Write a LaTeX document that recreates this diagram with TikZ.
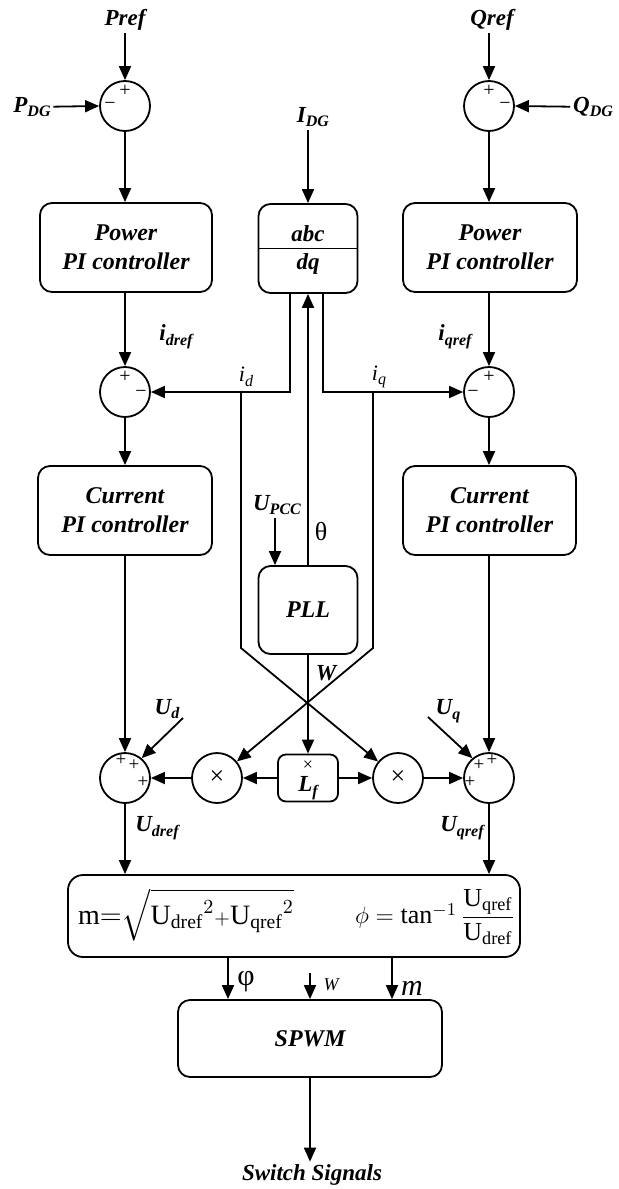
\documentclass[tikz,border=0pt]{standalone}
\usepackage{fontspec}
\usepackage{amsmath}
\setmainfont{Liberation Serif}
\usetikzlibrary{arrows.meta}
\newcommand\subsc[1]{\raisebox{-0.45ex}{\fontsize{8}{9}\selectfont #1}}
\begin{document}
\begin{tikzpicture}[x=0.5pt,y=-0.5pt,
 line width=0.9pt,
 arr/.style={-{Triangle[length=7pt,width=6pt]}},
 blk/.style={draw, rounded corners=6pt, align=center, inner sep=0pt, font=\fontsize{12}{14.5}\selectfont\bfseries\itshape},
 sumc/.style={draw, circle, minimum size=25pt, inner sep=0pt},
 lab/.style={inner sep=1pt, font=\fontsize{11.5}{13}\selectfont\bfseries\itshape},
 ilab/.style={inner sep=1pt, font=\fontsize{11}{13}\selectfont\itshape},
 sgn/.style={inner sep=0pt, font=\fontsize{10}{10}\selectfont},
 psgn/.style={inner sep=0pt, font=\fontsize{9.5}{9.5}\selectfont},
 mul/.style={inner sep=0pt, font=\fontsize{13}{13}\selectfont}
]
\useasboundingbox (0,0) rectangle (619,1189);

% ---- top row ----
\node[lab] (pref) at (125,20) {Pref};
\node[sumc] (s1) at (125,106) {};
\node[sgn] (s1p) at (125,91) {+};
\node[sgn] (s1m) at (110,106) {−};
\node[lab] (pdg) at (32,107) {P\subsc{DG}};
\node[blk, minimum width=86pt, minimum height=44.5pt] (box1) at (126,247.5) {Power\\PI controller};

\node[lab] (qref) at (492,20) {Qref};
\node[sumc] (s2) at (489,106) {};
\node[sgn] (s2p) at (489,91) {+};
\node[sgn] (s2m) at (505,106) {−};
\node[lab] (qdg) at (593,107) {Q\subsc{DG}};
\node[blk, minimum width=87pt, minimum height=44.5pt] (box2) at (490,247.5) {Power\\PI controller};

\node[lab] (idg) at (313,117) {I\subsc{DG}};
\node[draw, rounded corners=6pt, minimum width=49.5pt, minimum height=44.5pt, inner sep=0pt] (abc) at (308,248.5) {};
\node[lab] (abct) at (308,234) {abc};
\node[lab] (dqt) at (308,264) {dq};

% ---- second sums ----
\node[sumc] (s3) at (125,392) {};
\node[sgn] (s3p) at (125,377) {+};
\node[sgn] (s3m) at (141,394) {−};
\node[sumc] (s4) at (489,392) {};
\node[sgn] (s4p) at (489,377) {+};
\node[sgn] (s4m) at (473,394) {−};
\node[lab] (idref) at (176,337) {i\subsc{dref}};
\node[lab] (iqref) at (455,337) {i\subsc{qref}};
\node[ilab] (idl) at (246,377) {i\subsc{\itshape d}};
\node[ilab] (iql) at (379,377) {i\subsc{\itshape q}};

\node[blk, minimum width=87pt, minimum height=44.5pt] (cur1) at (125,510.5) {Current\\PI controller};
\node[blk, minimum width=86.5pt, minimum height=44.5pt] (cur2) at (489.5,510.5) {Current\\PI controller};

% ---- PLL ----
\node[blk, minimum width=49.5pt, minimum height=44pt] (pll) at (308,610) {PLL};
\node[lab] (upcc) at (277,505) {U\subsc{PCC}};
\node[inner sep=0pt, font=\fontsize{13}{13}\selectfont] (theta) at (321,532) {θ};
\node[lab] (wl) at (326,673) {W};

% ---- bottom row ----
\node[sumc] (s5) at (125,778) {};
\node[psgn] (s5a) at (121,760) {+};
\node[psgn] (s5b) at (134,765) {+};
\node[psgn] (s5c) at (143,782) {+};
\node[sumc] (m1) at (217,778) {};
\node[mul] (m1t) at (217,778) {×};
\node[draw, rounded corners=4pt, minimum width=30pt, minimum height=23.5pt, inner sep=0pt] (lf) at (308,778) {};
\node[inner sep=0pt, font=\fontsize{9}{9}\selectfont] (lfx) at (308,766) {×};
\node[lab] (lft) at (308,788) {L\subsc{f}};
\node[sumc] (m2) at (398,778) {};
\node[mul] (m2t) at (398,778) {×};
\node[sumc] (s6) at (489,778) {};
\node[psgn] (s6a) at (492,760) {+};
\node[psgn] (s6b) at (479,765) {+};
\node[psgn] (s6c) at (470,782) {+};
\node[lab] (udl) at (167,709) {U\subsc{d}};
\node[lab] (uql) at (448,711) {U\subsc{q}};
\node[lab] (udref) at (157,828) {U\subsc{dref}};
\node[lab] (uqref) at (462,828) {U\subsc{qref}};

% ---- big box ----
\node[draw, rounded corners=7.5pt, minimum width=226pt, minimum height=41pt, inner sep=0pt] (big) at (294,916) {};
\node[inner sep=0pt, font=\fontsize{14}{15}\selectfont] (fm) at (186,915) {$\mathrm{m}{=}\sqrt{\mathrm{U_{dref}}^{2}{\scriptstyle+}\mathrm{U_{qref}}^{2}}$};
\node[inner sep=0pt, font=\fontsize{13}{15}\selectfont] (fphi) at (435,917) {$\phi=\tan^{-1}\dfrac{\mathrm{U_{qref}}}{\mathrm{U_{dref}}}$};

\node[blk, minimum width=132pt, minimum height=38.5pt] (spwm) at (310,1038.5) {SPWM};
\node[lab] (sw) at (312,1175) {Switch Signals};
\node[inner sep=0pt, font=\fontsize{15}{15}\selectfont] (phil) at (246,982) {φ};
\node[inner sep=0pt, font=\fontsize{9}{9}\selectfont\itshape] (wsm) at (331,985) {W};
\node[inner sep=0pt, font=\fontsize{15}{15}\selectfont\itshape] (ml) at (412,988) {m};

% ---- coordinates ----
\coordinate (idA) at (290,293);
\coordinate (idB) at (290,392);
\coordinate (iqA) at (323,293);
\coordinate (iqB) at (323,392);
\coordinate (dJ) at (241,392);
\coordinate (dK) at (241,648);
\coordinate (qJ) at (373,392);
\coordinate (qK) at (373,648);
\coordinate (upA) at (275,518);
\coordinate (udA) at (183,718);
\coordinate (uqA) at (428,717);
\coordinate (pA) at (228,957);
\coordinate (wA) at (310,973);
\coordinate (mA) at (392,957);

% ---- connectors ----
\draw (abc.west) -- (abc.east);
\draw[arr] (pref) -- (s1.north);
\draw[arr] (pdg) -- (s1.west);
\draw[arr] (s1.south) -- (box1.north -| s1.south);
\draw[arr] (box1.south -| s3.north) -- (s3.north);
\draw[arr] (qref.south -| s2.north) -- (s2.north);
\draw[arr] (qdg) -- (s2.east);
\draw[arr] (s2.south) -- (box2.north -| s2.south);
\draw[arr] (box2.south -| s4.north) -- (s4.north);
\draw[arr] (idg.south -| abc.north) -- (abc.north);

\draw[arr] (idA) -- (idB) -- (s3.east);
\draw[arr] (iqA) -- (iqB) -- (s4.west);
\draw[arr] (dJ) -- (dK) -- (m2);
\draw[arr] (qJ) -- (qK) -- (m1);
\draw[arr] (pll.north) -- (abc.south);
\draw[arr] (upA) -- (upA |- pll.north);
\draw[arr] (pll.south) -- (lf.north);

\draw[arr] (s3.south) -- (cur1.north -| s3.south);
\draw[arr] (s4.south) -- (cur2.north -| s4.south);
\draw[arr] (cur1.south -| s5.north) -- (s5.north);
\draw[arr] (cur2.south -| s6.north) -- (s6.north);

\draw[arr] (lf.west) -- (m1.east);
\draw[arr] (lf.east) -- (m2.west);
\draw[arr] (m1.west) -- (s5.east);
\draw[arr] (m2.east) -- (s6.west);
\draw[arr] (udA) -- (s5.50);
\draw[arr] (uqA) -- (s6.130);

\draw[arr] (s5.south) -- (s5.south |- big.north);
\draw[arr] (s6.south) -- (s6.south |- big.north);
\draw[arr] (pA) -- (pA |- spwm.north);
\draw[arr] (wA) -- (wA |- spwm.north);
\draw[arr] (mA) -- (mA |- spwm.north);
\draw[arr] (spwm.south) -- (sw.north -| spwm.south);
\end{tikzpicture}
\end{document}
